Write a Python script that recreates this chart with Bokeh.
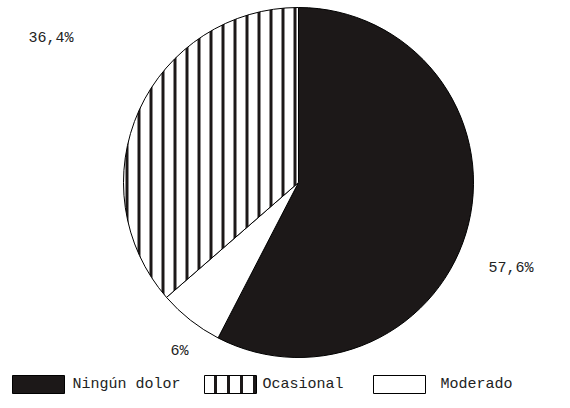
import math
from bokeh.plotting import figure
from bokeh.models import Range1d
from bokeh.embed import file_html
from bokeh.resources import INLINE
from bokeh.core.properties import value

# ---- data (clockwise from 12 o'clock) ----
categories = ["Ningún dolor", "Moderado", "Ocasional"]
percents = [57.6, 6.0, 36.4]
pct_labels = ["57,6%", "6%", "36,4%"]
legend_order = ["Ningún dolor", "Ocasional", "Moderado"]

# ---- styles / layout ----
W, H = 570, 408
FONT = "Liberation Mono"
styles = {
    "Ningún dolor": dict(fill_color="#1c1818", hatch_pattern=None),
    "Moderado": dict(fill_color="white", hatch_pattern=None),
    "Ocasional": dict(fill_color="white", hatch_pattern="vertical_line"),
}
cx, cy, r = 298, H - 182, 175
label_pos = {"Ningún dolor": (488, 268), "Moderado": (170, 351), "Ocasional": (28, 38)}
legend_box_x = {"Ningún dolor": 12, "Ocasional": 204, "Moderado": 373}
legend_text_x = {"Ningún dolor": 72, "Ocasional": 262, "Moderado": 440}
legend_y = 384

p = figure(width=W, height=H, x_range=Range1d(0, W), y_range=Range1d(0, H),
           x_axis_type=None, y_axis_type=None, toolbar_location=None,
           output_backend="svg", min_border=0, outline_line_color=None,
           background_fill_color="white", border_fill_color="white")
p.grid.visible = False

total = sum(percents)
cum = 0.0
for cat, v, lab in zip(categories, percents, pct_labels):
    a0 = math.pi / 2 - 2 * math.pi * cum / total
    a1 = math.pi / 2 - 2 * math.pi * (cum + v) / total
    cum += v
    st = styles[cat]
    kw = dict(x=cx, y=cy, radius=r, start_angle=a0, end_angle=a1, direction="clock",
              fill_color=st["fill_color"], line_color="black", line_width=1)
    if st["hatch_pattern"]:
        kw.update(hatch_pattern=st["hatch_pattern"], hatch_color="#1c1818",
                  hatch_weight=3, hatch_scale=12)
    p.wedge(**kw)
    lx, ly = label_pos[cat]
    p.text(x=[lx], y=[H - ly], text=[lab], text_font=value(FONT), text_font_size="15px",
           text_baseline="middle", text_align="left", text_color="#222222")

for cat in legend_order:
    st = styles[cat]
    bx = legend_box_x[cat]
    kw = dict(x=bx + 26, y=H - legend_y, width=52, height=18,
              fill_color=st["fill_color"], line_color="black", line_width=1)
    if st["hatch_pattern"]:
        kw.update(hatch_pattern=st["hatch_pattern"], hatch_color="#1c1818",
                  hatch_weight=3, hatch_scale=13)
    p.rect(**kw)
    p.text(x=[legend_text_x[cat]], y=[H - legend_y], text=[cat], text_font=value(FONT),
           text_font_size="15px", text_baseline="middle", text_align="left",
           text_color="#222222")

open("out.html", "w").write(file_html(p, INLINE))
